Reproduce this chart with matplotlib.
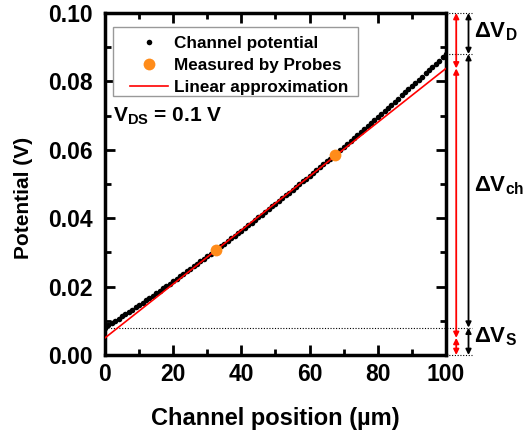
import matplotlib
matplotlib.use("Agg")
import matplotlib.pyplot as plt
from matplotlib.ticker import MultipleLocator
from matplotlib.patches import Rectangle

plt.rcParams['font.family'] = ['Liberation Sans', 'DejaVu Sans']
plt.rcParams['font.weight'] = 'bold'
plt.rcParams['mathtext.fontset'] = 'custom'
plt.rcParams['mathtext.rm'] = 'Liberation Sans:bold'
plt.rcParams['mathtext.bf'] = 'Liberation Sans:bold'
plt.rcParams['mathtext.it'] = 'Liberation Sans:bold'

# Channel potential (position in um, potential in V)
pos = list(range(0, 101))
potential = [
    0.00800, 0.00865, 0.00931, 0.00996, 0.01062, 0.01129, 0.01195, 0.01262, 0.01330, 0.01397,
    0.01465, 0.01533, 0.01602, 0.01670, 0.01739, 0.01809, 0.01878, 0.01948, 0.02019, 0.02089,
    0.02160, 0.02231, 0.02303, 0.02374, 0.02446, 0.02519, 0.02591, 0.02664, 0.02738, 0.02811,
    0.02885, 0.02959, 0.03034, 0.03108, 0.03183, 0.03259, 0.03334, 0.03410, 0.03487, 0.03563,
    0.03640, 0.03717, 0.03795, 0.03872, 0.03950, 0.04029, 0.04107, 0.04186, 0.04266, 0.04345,
    0.04425, 0.04505, 0.04586, 0.04666, 0.04747, 0.04829, 0.04910, 0.04992, 0.05075, 0.05157,
    0.05240, 0.05323, 0.05407, 0.05490, 0.05574, 0.05659, 0.05743, 0.05828, 0.05914, 0.05999,
    0.06085, 0.06171, 0.06258, 0.06344, 0.06431, 0.06519, 0.06606, 0.06694, 0.06783, 0.06871,
    0.06960, 0.07049, 0.07139, 0.07228, 0.07318, 0.07409, 0.07499, 0.07590, 0.07682, 0.07773,
    0.07865, 0.07957, 0.08050, 0.08142, 0.08235, 0.08329, 0.08422, 0.08516, 0.08611, 0.08705,
    0.08800,
]

# Probe measurements
probe_pos = [32.5, 67.5]
probe_val = [0.0307, 0.0584]

# Linear approximation endpoints
lin_pos = [0, 100]
lin_val = [0.0050, 0.0838]

# Reference levels
v_top = 0.10
v_drain = 0.088
v_source = 0.008
v_bottom = 0.0

fig = plt.figure(figsize=(5.26, 4.34), dpi=100)
ax = fig.add_axes([0.1996, 0.182, 0.6483, 0.788])

ax.plot(pos, potential, 'o', color='black', markersize=4.0, markeredgewidth=0,
        label='Channel potential', zorder=3)
ax.plot(probe_pos, probe_val, 'o', color='#ff8c1a', markersize=8.5, markeredgewidth=0,
        label='Measured by Probes', zorder=5)
ax.plot(lin_pos, lin_val, '-', color='red', linewidth=1.2,
        label='Linear approximation', zorder=4)

ax.set_xlim(0, 100)
ax.set_ylim(0, 0.10)
ax.xaxis.set_major_locator(MultipleLocator(20))
ax.xaxis.set_minor_locator(MultipleLocator(10))
ax.yaxis.set_major_locator(MultipleLocator(0.02))
ax.yaxis.set_minor_locator(MultipleLocator(0.01))
ax.yaxis.set_major_formatter(plt.FuncFormatter(lambda v, p: f"{v:.2f}"))
ax.tick_params(which='both', direction='in', top=True, right=True, width=2)
ax.tick_params(which='major', length=7, labelsize=16.5)
ax.tick_params(axis='y', which='major', pad=9)
ax.tick_params(axis='x', which='major', pad=6)
ax.tick_params(which='minor', length=4)
for lbl in ax.get_xticklabels() + ax.get_yticklabels():
    lbl.set_fontweight('bold')
for s in ax.spines.values():
    s.set_linewidth(2.5)

ax.set_xlabel('Channel position (µm)', fontsize=17, fontweight='bold', labelpad=15)
ax.set_ylabel('Potential (V)', fontsize=15, fontweight='bold')
ax.yaxis.set_label_coords(-0.211, 0.459)

# legend frame drawn separately, legend entries without frame
ax.add_patch(Rectangle((0.0235, 0.757), 0.7185, 0.202, transform=ax.transAxes,
                       fill=True, facecolor='white', edgecolor='#999999', linewidth=1.0,
                       zorder=6))
leg = ax.legend(loc='upper left', bbox_to_anchor=(0.0733, 0.932), fontsize=12.3,
                frameon=False, handlelength=2.2, borderpad=0, labelspacing=0.40,
                handletextpad=0.35, borderaxespad=0)
leg.set_zorder(7)
for t in leg.get_texts():
    t.set_fontweight('bold')

ax.text(2.3, 0.0697, r'$\mathbf{V_{DS}}$ = 0.1 V', fontsize=15, fontweight='bold',
        va='center', ha='left')

# dotted reference lines
dot_kw = dict(color='black', linestyle=(0, (1, 1.5)), linewidth=0.8, clip_on=False, zorder=2)
ax.plot([0, 107.5], [v_source, v_source], **dot_kw)
ax.plot([100, 107.5], [v_drain, v_drain], **dot_kw)
ax.plot([100, 107.5], [v_top, v_top], **dot_kw)
ax.plot([100, 107.5], [v_bottom, v_bottom], **dot_kw)

def darrow(x, y0, y1, color):
    ax.annotate('', xy=(x, y1), xytext=(x, y0), xycoords='data',
                arrowprops=dict(arrowstyle='<|-|>', color=color, lw=1.3,
                                mutation_scale=8, shrinkA=0, shrinkB=0),
                annotation_clip=False)

# red arrows (linear approximation)
darrow(103.0, v_top, lin_val[1], 'red')
darrow(103.0, lin_val[1], lin_val[0], 'red')
darrow(103.0, lin_val[0], v_bottom, 'red')
# black arrows (channel potential)
darrow(106.6, v_top, v_drain, 'black')
darrow(106.6, v_drain, v_source, 'black')
darrow(106.6, v_source, v_bottom, 'black')

lab_kw = dict(fontsize=16, fontweight='bold', va='center', ha='left', clip_on=False)
ax.text(108.3, 0.0945, r'$\mathbf{\Delta V_D}$', **lab_kw)
ax.text(108.3, 0.0495, r'$\mathbf{\Delta V_{ch}}$', **lab_kw)
ax.text(108.3, 0.0055, r'$\mathbf{\Delta V_S}$', **lab_kw)

fig.savefig('out.png', dpi=100)
